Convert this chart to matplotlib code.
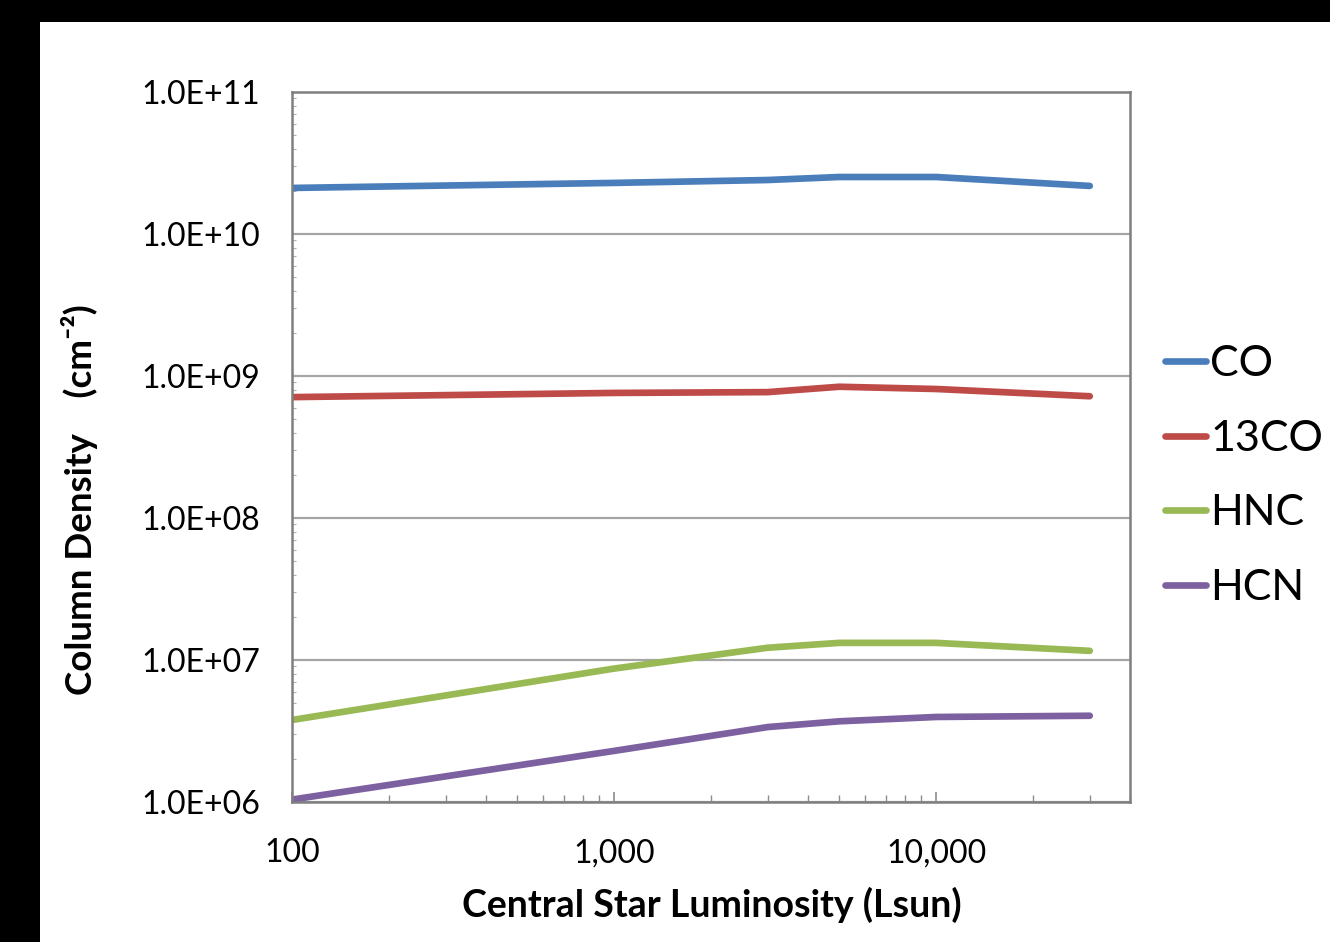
import matplotlib
matplotlib.use("Agg")
import matplotlib.pyplot as plt
from matplotlib.patches import Rectangle
from matplotlib.ticker import FixedLocator, FuncFormatter, LogLocator, NullFormatter

plt.rcParams['font.family'] = ['Lato', 'DejaVu Sans']

# ---- data ----
luminosity = [100, 1000, 3000, 5000, 10000, 30000]
co = [2.11e10, 2.29e10, 2.40e10, 2.52e10, 2.52e10, 2.18e10]
co13 = [7.1e8, 7.6e8, 7.7e8, 8.4e8, 8.1e8, 7.2e8]
hnc = [3.78e6, 8.7e6, 1.22e7, 1.32e7, 1.32e7, 1.16e7]
hcn = [1.04e6, 2.29e6, 3.37e6, 3.70e6, 3.97e6, 4.05e6]
series_names = ['CO', '13CO', 'HNC', 'HCN']
series_colors = ['#4A7EBB', '#BE4B48', '#98B954', '#7D60A0']
x_ticks = [100, 1000, 10000]
x_ticklabels = ['100', '1,000', '10,000']
y_ticks = [1e6, 1e7, 1e8, 1e9, 1e10, 1e11]

W, H = 1330, 942
fig = plt.figure(figsize=(W / 100, H / 100), dpi=100, facecolor='black')
fig.patches.append(Rectangle((40 / W, 0), 1 - 40 / W, 1 - 22 / H,
                             transform=fig.transFigure, facecolor='white',
                             edgecolor='none', zorder=-10))

ax = fig.add_axes([292 / W, 1 - 802 / H, (1130 - 292) / W, (802 - 92) / H])
ax.set_facecolor('white')

for vals, name, col in zip([co, co13, hnc, hcn], series_names, series_colors):
    ax.plot(luminosity, vals, color=col, lw=4.8, label=name,
            solid_capstyle='round', zorder=3)

ax.set_xscale('log')
ax.set_yscale('log')
ax.set_xlim(100, 40000)
ax.set_ylim(1e6, 1e11)

ax.xaxis.set_major_locator(FixedLocator(x_ticks))
ax.xaxis.set_major_formatter(FuncFormatter(
    lambda v, p: x_ticklabels[x_ticks.index(round(v))] if round(v) in x_ticks else ''))
ax.xaxis.set_minor_locator(LogLocator(base=10, subs=range(2, 10), numticks=20))
ax.xaxis.set_minor_formatter(NullFormatter())

ax.yaxis.set_major_locator(FixedLocator(y_ticks))
ax.yaxis.set_major_formatter(FuncFormatter(lambda v, p: f"{v:.1E}"))
ax.yaxis.set_minor_locator(LogLocator(base=10, subs=range(2, 10), numticks=20))
ax.yaxis.set_minor_formatter(NullFormatter())

ax.grid(axis='y', which='major', color='#A6A6A6', lw=1.6, zorder=1)
for s in ax.spines.values():
    s.set_color('#7F7F7F')
    s.set_linewidth(1.8)
    s.set_zorder(4)

ax.tick_params(axis='both', which='both', direction='in', color='#8C8C8C')
ax.tick_params(axis='x', which='major', length=7, width=1.2, pad=26, labelsize=23)
ax.tick_params(axis='x', which='minor', length=5, width=1.0)
ax.tick_params(axis='y', which='major', length=0, pad=23, labelsize=23)
ax.tick_params(axis='y', which='minor', length=3, width=0.8, color='#B0B0B0')

fig.text(712 / W, 1 - 905 / H, 'Central Star Luminosity (Lsun)', ha='center',
         va='center', fontsize=27, fontweight='bold')
fig.text(80 / W, 1 - 500 / H, 'Column Density    (cm\u207b\u00b2)', ha='center',
         va='center', rotation=90, fontsize=26.5, fontweight='bold')

leg = fig.legend(loc='center left', bbox_to_anchor=(1165 / W, 1 - 476 / H),
                 frameon=False, fontsize=31, handlelength=0.95,
                 handletextpad=0.1, labelspacing=0.85, borderpad=0,
                 borderaxespad=0)
for line in leg.get_lines():
    line.set_linewidth(4.8)

fig.savefig('out.png', dpi=100, facecolor=fig.get_facecolor())
